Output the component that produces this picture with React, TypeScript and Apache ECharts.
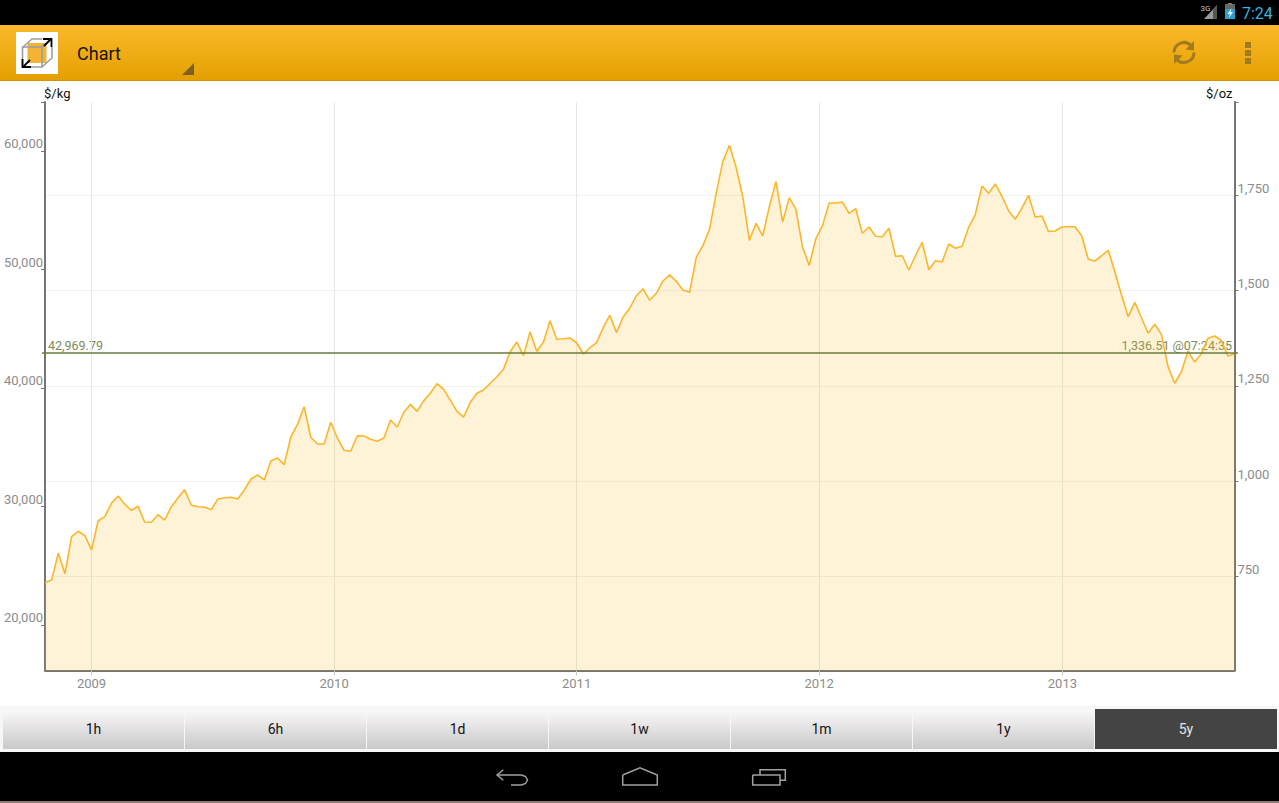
import React, { useEffect, useRef } from "react";
import * as echarts from "echarts";

const startDate = "2008-10-23";
const sampleDays = 10;
const pricePerKg = [
  23570, 23800, 26050, 24330, 27450, 27910, 27540, 26330, 28800, 29140,
  30270, 30890, 30190, 29680, 30020, 28690, 28670, 29310, 28860, 29960,
  30720, 31420, 30130, 29980, 29960, 29730, 30610, 30740, 30780, 30630,
  31390, 32320, 32660, 32240, 33860, 34090, 33530, 35890, 36940, 38420,
  35840, 35270, 35270, 37110, 35780, 34740, 34660, 35970, 35950, 35670,
  35500, 35780, 37300, 36710, 37950, 38620, 38030, 38930, 39580, 40360,
  39890, 38960, 38030, 37550, 38790, 39550, 39830, 40400, 40950, 41580,
  43060, 43880, 42730, 44750, 43100, 43860, 45680, 44110, 44160, 44220,
  43820, 42870, 43400, 43820, 45090, 46140, 44670, 45990, 46730, 47790,
  48380, 47400, 47990, 49030, 49540, 49000, 48270, 48080, 51030, 52010,
  53390, 56430, 59100, 60480, 58630, 56140, 52460, 53900, 52830, 55300,
  57440, 54010, 56060, 55080, 51870, 50350, 52600, 53700, 55610, 55610,
  55700, 54740, 55130, 53060, 53590, 52800, 52770, 53480, 51110, 51160,
  49960, 51180, 52300, 49980, 50740, 50630, 52150, 51790, 51960, 53560,
  54660, 57050, 56430, 57220, 56200, 54960, 54240, 55170, 56260, 54430,
  54520, 53220, 53250, 53590, 53610, 53610, 52850, 50860, 50720, 51160,
  51620, 49790, 47850, 46020, 47230, 45930, 44620, 45380, 44530, 41800,
  40400, 41350, 43120, 42190, 42870, 44190, 44390, 44030, 42700, 42870,
];
const yearTicks = ["2009-01-01", "2010-01-01", "2011-01-01", "2012-01-01", "2013-01-01"];
const kgTicks = [20000, 30000, 40000, 50000, 60000];
const ozTicks = [750, 1000, 1250, 1500, 1750];
const kgRange = [16160, 64135];
const ozRange = [502.6, 1994.9];
const currentKg = 42969.79;
const currentKgLabel = "42,969.79";
const currentOzLabel = "1,336.51 @07:24:35";
const ranges = ["1h", "6h", "1d", "1w", "1m", "1y", "5y"];
const selectedRange = "5y";

const FONT = "Roboto";
const ms = (d: string) => new Date(d + "T00:00:00Z").getTime();
const DAY = 86400000;
const seriesData = pricePerKg.map((v, i) => [ms(startDate) + i * sampleDays * DAY, v]);
const yearMs = yearTicks.map(ms);
const GRAY = "#777772";
const ICON = "#a37b1f";
const NAV = "#a0a0a0";

function chrome(): any[] {
  const grad = (stops: [number, string][]) =>
    new echarts.graphic.LinearGradient(0, 0, 0, 1, stops.map(([offset, color]) => ({ offset, color })));
  const rect = (x: number, y: number, width: number, height: number, fill: any) => ({
    type: "rect", shape: { x, y, width, height }, style: { fill }, silent: true,
  });
  const stroke = (color: string, lineWidth: number) => ({ stroke: color, lineWidth, fill: "none" });
  const poly = (points: number[][], color: string, w = 2) => ({
    type: "polyline", shape: { points }, style: stroke(color, w), silent: true,
  });
  const polygon = (points: number[][], fill: string) => ({
    type: "polygon", shape: { points }, style: { fill }, silent: true,
  });
  const text = (x: number, y: number, t: string, fontSize: number, fill: string, align = "left", vAlign = "middle") => ({
    type: "text", x, y, silent: true,
    style: { text: t, fontSize, fill, fontFamily: FONT, align, verticalAlign: vAlign },
  });

  const items: any[] = [
    // status bar
    rect(0, 0, 1279, 25, "#000"),
    polygon([[1217, 5], [1217, 19], [1204, 19]], "#9a9a9a"),
    polygon([[1217, 5], [1217, 19], [1213, 19], [1213, 10]], "#555555"),
    text(1200.5, 8, "3G", 8, "#c4c4c4"),
    rect(1225, 4, 10, 6, "#666666"),
    rect(1228, 3, 4, 2, "#777777"),
    rect(1225, 9, 10, 10, "#2e9fcb"),
    polygon([[1231.5, 8], [1227.5, 14], [1230, 14], [1229, 18], [1233, 12], [1230.5, 12]], "#e8f5fb"),
    text(1242, 13, "7:24", 16, "#33b5e5"),
    // action bar
    rect(0, 25, 1279, 55, grad([[0, "#fbb92c"], [1, "#e4a000"]])),
    rect(0, 80, 1279, 1, "#d99300"),
    rect(16, 32, 42, 42, "#ffffff"),
    rect(27.5, 43, 19, 20, "#f5b335"),
    poly([[32, 47], [22.5, 47], [22.5, 67], [42, 67], [42, 47], [32, 47]], "#9a9fa3", 1.6),
    poly([[23, 47], [32, 39], [42, 39]], "#9a9fa3", 1.6),
    poly([[52, 47], [52, 58], [42, 67]], "#9a9fa3", 1.6),
    poly([[42, 47], [51, 39]], "#9a9fa3", 1.6),
    poly([[43, 39], [51.5, 39], [51.5, 47]], "#000", 1.8),
    poly([[51, 39], [44, 46]], "#000", 1.8),
    poly([[22.5, 59], [22.5, 67], [31, 67]], "#000", 1.8),
    poly([[23, 67], [30, 60]], "#000", 1.8),
    text(77, 53.5, "Chart", 18, "#1b1408"),
    polygon([[194, 63], [194, 75], [182, 75]], "#7c6121"),
    // refresh icon
    { type: "arc", silent: true, shape: { cx: 1184, cy: 52.5, r: 10, startAngle: Math.PI * 1.0, endAngle: Math.PI * 1.75, clockwise: true }, style: stroke(ICON, 3) },
    { type: "arc", silent: true, shape: { cx: 1184, cy: 52.5, r: 10, startAngle: 0, endAngle: Math.PI * 0.75, clockwise: true }, style: stroke(ICON, 3) },
    polygon([[1194, 41], [1194, 50.5], [1185.5, 49.5]], ICON),
    polygon([[1174, 64], [1174, 54.5], [1182.5, 55.5]], ICON),
    rect(1245, 42, 6, 6, ICON),
    rect(1245, 50, 6, 6, ICON),
    rect(1245, 58, 6, 6, ICON),
    // range strip
    rect(0, 706, 1279, 46, "#f6f6f6"),
  ];

  ranges.forEach((r, i) => {
    const x0 = 3 + i * 182;
    const w = i === ranges.length - 1 ? 182 : 181;
    const selected = r === selectedRange;
    items.push(rect(x0, 709, w, 40, selected ? "#444444" : grad([[0, "#fbfafb"], [0.35, "#eae8e9"], [1, "#c9c9c9"]])));
    items.push(text(x0 + w / 2, 729, r, 14, selected ? "#e6e6e6" : "#151515", "center"));
  });

  items.push(
    rect(0, 752, 1279, 51, "#000"),
    rect(0, 801, 1279, 2, "#8f7a72"),
    // navigation icons
    poly([[503.3, 769.7], [497, 775], [503.3, 780.3]], NAV, 1.5),
    poly([[497, 775], [521.7, 775], [525.5, 776.5], [527.5, 780], [525.5, 783.5], [521.7, 785], [511, 785]], NAV, 1.5),
    poly([[622.7, 775], [640, 767.7], [657.3, 775], [657.3, 785], [622.7, 785], [622.7, 775]], NAV, 1.5),
    poly([[752.7, 775], [752.7, 785], [780, 785], [780, 775], [752.7, 775]], NAV, 1.5),
    poly([[760, 775], [760, 769.7], [785.3, 769.7], [785.3, 780.3], [780, 780.3]], NAV, 1.5),
    // current price labels
    text(48, 345, currentKgLabel, 12.5, "#7b8c58"),
    text(1232, 345, currentOzLabel, 12.5, "#7b8c58", "right"),
  );
  return items;
}

export default function App() {
  const ref = useRef<HTMLDivElement>(null);
  useEffect(() => {
    document.body.style.margin = "0";
    const chart = echarts.init(ref.current!, undefined, { renderer: "svg" });
    const axisLabelStyle = { color: "#8c8c8c", fontSize: 13, fontFamily: FONT, verticalAlign: "bottom" as const, lineHeight: 14 };
    const yBase = {
      type: "value" as const,
      axisLine: { show: true, onZero: false, lineStyle: { color: GRAY, width: 2 } },
      nameLocation: "end" as const,
      nameGap: 2,
      nameTextStyle: { color: "#111", fontSize: 13, fontFamily: FONT },
    };
    chart.setOption({
      animation: false,
      backgroundColor: "#ffffff",
      textStyle: { fontFamily: FONT },
      grid: { left: 45, top: 102, width: 1189.5, height: 568.5, containLabel: false },
      xAxis: {
        type: "value",
        min: seriesData[0][0],
        max: seriesData[seriesData.length - 1][0],
        axisLine: { show: true, onZero: false, lineStyle: { color: GRAY, width: 2 } },
        axisTick: { show: true, length: 5, customValues: yearMs, lineStyle: { color: "#c8c8c8" } },
        axisLabel: {
          show: true,
          customValues: yearMs,
          hideOverlap: false,
          color: "#8c8c8c",
          fontSize: 13,
          fontFamily: FONT,
          margin: 6,
          formatter: (v: number) => String(new Date(v).getUTCFullYear()),
        },
        splitLine: { show: true, lineStyle: { color: "#e6e6e6", width: 1 } },
      },
      yAxis: [
        {
          ...yBase,
          position: "left",
          min: kgRange[0],
          max: kgRange[1],
          name: "$/kg",
          nameTextStyle: { ...yBase.nameTextStyle, align: "left", padding: [0, 0, 0, -1] },
          axisTick: { show: true, length: 4, customValues: [...kgTicks, kgRange[1]], lineStyle: { color: GRAY } },
          axisLabel: {
            show: true, customValues: kgTicks, margin: 2, ...axisLabelStyle, showMinLabel: true, showMaxLabel: true,
            formatter: (v: number) => v.toLocaleString("en-US"),
          },
          splitLine: { show: false },
        },
        {
          ...yBase,
          position: "right",
          min: ozRange[0],
          max: ozRange[1],
          name: "$/oz",
          nameTextStyle: { ...yBase.nameTextStyle, align: "right", padding: [0, 2, 0, 0] },
          axisTick: { show: true, length: 4, customValues: [...ozTicks, ozRange[1]], lineStyle: { color: GRAY } },
          axisLabel: {
            show: true, customValues: ozTicks, margin: 3, ...axisLabelStyle,
            formatter: (v: number) => v.toLocaleString("en-US"),
          },
          splitLine: { show: true, showMaxLine: false, lineStyle: { color: "#f3f1ee", width: 1 } },
        },
      ],
      series: [
        {
          type: "line",
          data: seriesData,
          showSymbol: false,
          symbol: "none",
          lineStyle: { color: "#fbb62a", width: 1.6 },
          itemStyle: { color: "#fbb62a" },
          areaStyle: { color: "rgba(251,186,40,0.19)", opacity: 1, origin: "start" },
          markLine: {
            silent: true,
            symbol: "none",
            label: { show: false },
            lineStyle: { color: "#687b3e", width: 1.5, type: "solid" },
            data: [[{ x: 42, yAxis: currentKg }, { x: 1238, yAxis: currentKg }]],
          },
        },
      ],
      graphic: { elements: chrome() },
    });
    return () => chart.dispose();
  }, []);
  return <div ref={ref} style={{ width: 1279, height: 803 }} />;
}
